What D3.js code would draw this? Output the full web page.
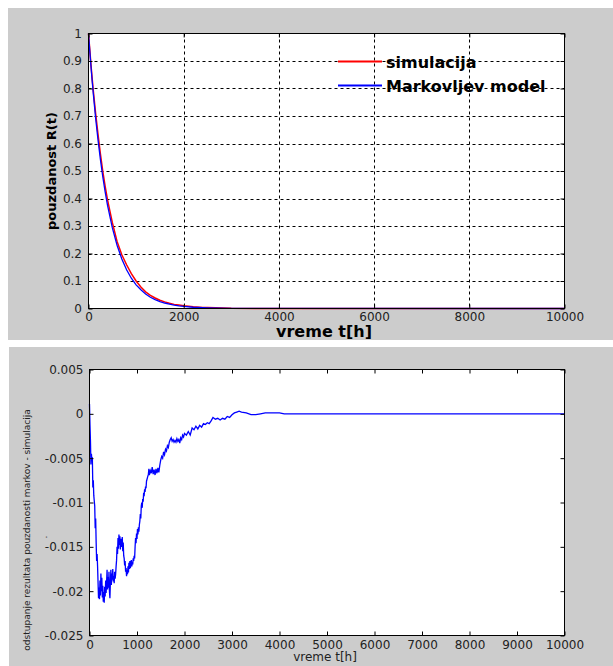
<!DOCTYPE html>
<html>
<head>
<meta charset="utf-8">
<script src="https://cdn.jsdelivr.net/npm/d3@7"></script>
<style>
  html, body { margin: 0; padding: 0; background: #ffffff; }
  svg { display: block; }
  text { font-family: "DejaVu Sans", sans-serif; }
</style>
</head>
<body>
<svg id="chart" width="613" height="666"></svg>
<script>
// ---------------- DATA ----------------
// Top chart: reliability R(t)
const relTime   = [0, 25, 50, 75, 100, 150, 200, 250, 300, 350, 400, 500, 600, 700, 800, 900, 1000, 1100, 1200, 1300, 1400, 1500, 1600, 1700, 1800, 1900, 2000, 2200, 2400, 2500, 3000, 4000, 10000];
const markovR   = [1.000, 0.941, 0.885, 0.832, 0.783, 0.692, 0.613, 0.542, 0.479, 0.424, 0.375, 0.294, 0.230, 0.180, 0.141, 0.110, 0.086, 0.068, 0.053, 0.041, 0.032, 0.025, 0.020, 0.016, 0.012, 0.0095, 0.0075, 0.0045, 0.0028, 0.0022, 0.0006, 0.0001, 0.0];
const simR      = [1.000, 0.945, 0.890, 0.840, 0.793, 0.709, 0.633, 0.562, 0.499, 0.444, 0.395, 0.313, 0.244, 0.1955, 0.159, 0.1267, 0.100, 0.078, 0.0606, 0.0477, 0.0382, 0.0302, 0.024, 0.019, 0.015, 0.0128, 0.0097, 0.0063, 0.0039, 0.0032, 0.0007, 0.0001, 0.0];
const seriesNames = ["simulacija", "Markovljev model"];
const seriesColors = ["#ff0000", "#0000ff"];

// Bottom chart: deviation Markov - simulation
const devTime = [0,10,20,30,40,50,60,70,80,90,100,110,120,130,140,150,160,170,180,190,200,210,220,230,240,250,260,270,280,290,300,310,320,330,340,350,360,370,380,390,400,410,420,430,440,450,460,470,480,490,500,510,520,530,540,550,560,570,580,590,600,610,620,630,640,650,660,670,680,690,700,710,720,730,740,750,760,770,780,790,800,810,820,830,840,850,860,870,880,890,900,910,920,930,940,950,960,970,980,990,1000,1010,1020,1030,1040,1050,1060,1070,1080,1090,1100,1110,1120,1130,1140,1150,1160,1170,1180,1190,1200,1220,1240,1250,1260,1280,1300,1320,1340,1360,1380,1400,1420,1440,1460,1480,1500,1520,1540,1560,1580,1600,1620,1640,1660,1680,1700,1720,1740,1760,1780,1800,1820,1840,1860,1880,1900,1920,1940,1960,1980,2000,2040,2080,2120,2160,2200,2240,2280,2320,2360,2400,2440,2480,2520,2560,2600,2650,2700,2750,2800,2850,2900,2950,3000,3050,3100,3150,3200,3300,3400,3500,3600,3700,3800,3900,4000,4100,10000];
const devValue = [0.0011,-0.0012,-0.0030,-0.0057,-0.0045,-0.0052,-0.0049,-0.0083,-0.0075,-0.0092,-0.0098,-0.0104,-0.0129,-0.0118,-0.0145,-0.0166,-0.0158,-0.0172,-0.0190,-0.0208,-0.0196,-0.0209,-0.0188,-0.0205,-0.0180,-0.0200,-0.0185,-0.0207,-0.0194,-0.0212,-0.0201,-0.0213,-0.0195,-0.0206,-0.0188,-0.0202,-0.0190,-0.0176,-0.0198,-0.0184,-0.0196,-0.0178,-0.0200,-0.0208,-0.0190,-0.0176,-0.0193,-0.0180,-0.0187,-0.0175,-0.0189,-0.0183,-0.0191,-0.0178,-0.0186,-0.0181,-0.0172,-0.0165,-0.0150,-0.0158,-0.0140,-0.0152,-0.0136,-0.0148,-0.0138,-0.0153,-0.0141,-0.0150,-0.0147,-0.0139,-0.0155,-0.0145,-0.0160,-0.0163,-0.0171,-0.0166,-0.0178,-0.0174,-0.0183,-0.0176,-0.0181,-0.0172,-0.0179,-0.0168,-0.0175,-0.0166,-0.0174,-0.0170,-0.0165,-0.0172,-0.0167,-0.0170,-0.0163,-0.0166,-0.0160,-0.0163,-0.0150,-0.0140,-0.0146,-0.0135,-0.0141,-0.0130,-0.0136,-0.0128,-0.0133,-0.0125,-0.0121,-0.0113,-0.0118,-0.0104,-0.0100,-0.0106,-0.0096,-0.0099,-0.0089,-0.0093,-0.0085,-0.0088,-0.0082,-0.0084,-0.0076,-0.0072,-0.0068,-0.0062,-0.0069,-0.0064,-0.0067,-0.0060,-0.0068,-0.0063,-0.0069,-0.0062,-0.0067,-0.0061,-0.0066,-0.0058,-0.0052,-0.0048,-0.0050,-0.0043,-0.0046,-0.0040,-0.0042,-0.0036,-0.0038,-0.0032,-0.0029,-0.0027,-0.0031,-0.0029,-0.0032,-0.0030,-0.0032,-0.0028,-0.0031,-0.0029,-0.0033,-0.0027,-0.0029,-0.0024,-0.0026,-0.0022,-0.0024,-0.0020,-0.0024,-0.0016,-0.0018,-0.0014,-0.0017,-0.0013,-0.0015,-0.0011,-0.0012,-0.0010,-0.0011,-0.0008,-0.0004,-0.0006,-0.0005,-0.0007,-0.0005,-0.0006,-0.0003,-0.0004,-0.0001,0.0001,0.0002,0.0003,0.0002,0.0001,-0.0001,-0.0001,0.0000,0.0001,0.0001,0.0001,0.0001,0.0000,0.0000];

// Ticks and labels
const topXTicks = [0, 2000, 4000, 6000, 8000, 10000];
const topXTickLabels = ["0", "2000", "4000", "6000", "8000", "10000"];
const topYTicks = [0, 0.1, 0.2, 0.3, 0.4, 0.5, 0.6, 0.7, 0.8, 0.9, 1];
const topYTickLabels = ["0", "0.1", "0.2", "0.3", "0.4", "0.5", "0.6", "0.7", "0.8", "0.9", "1"];
const botXTicks = [0, 1000, 2000, 3000, 4000, 5000, 6000, 7000, 8000, 9000, 10000];
const botXTickLabels = ["0", "1000", "2000", "3000", "4000", "5000", "6000", "7000", "8000", "9000", "10000"];
const botYTicks = [0.005, 0, -0.005, -0.01, -0.015, -0.02, -0.025];
const botYTickLabels = ["0.005", "0", "-0.005", "-0.01", "-0.015", "-0.02", "-0.025"];

const topXLabel = "vreme t[h]";
const topYLabel = "pouzdanost R(t)";
const botXLabel = "vreme t[h]";
const botYLabel = "odstupanje rezultata pouzdanosti markov - simulacija";

// ---------------- DRAW ----------------
const svg = d3.select("#chart");
const bg = "#cccccc";

svg.append("rect").attr("x", 8).attr("y", 8).attr("width", 605).attr("height", 332).attr("fill", bg);
svg.append("rect").attr("x", 9).attr("y", 347).attr("width", 604).attr("height", 319).attr("fill", bg);

function labelFmt(ticks, labels) {
  return d => { const i = ticks.findIndex(t => Math.abs(t - d) < 1e-9); return i >= 0 ? labels[i] : ""; };
}

// ===== TOP CHART =====
const tx = d3.scaleLinear().domain([0, 10000]).range([88.5, 564.5]);
const ty = d3.scaleLinear().domain([0, 1]).range([308.5, 33.5]);
const gTop = svg.append("g");
gTop.append("rect").attr("x", tx(0)).attr("y", ty(1)).attr("width", tx(10000) - tx(0)).attr("height", ty(0) - ty(1)).attr("fill", "#ffffff");

gTop.append("g").selectAll("line").data(topXTicks.slice(1, -1)).join("line")
  .attr("x1", d => Math.round(tx(d)) + 0.5).attr("x2", d => Math.round(tx(d)) + 0.5)
  .attr("y1", ty(1)).attr("y2", ty(0))
  .attr("stroke", "#000").attr("stroke-width", 1).attr("stroke-dasharray", "3,3");
gTop.append("g").selectAll("line").data(topYTicks.slice(1, -1)).join("line")
  .attr("y1", d => Math.round(ty(d)) + 0.5).attr("y2", d => Math.round(ty(d)) + 0.5)
  .attr("x1", tx(0)).attr("x2", tx(10000))
  .attr("stroke", "#000").attr("stroke-width", 1).attr("stroke-dasharray", "3,3");

const topLine = (vals) => d3.line().x((d, i) => tx(relTime[i])).y(d => ty(d))(vals);
gTop.append("path").attr("d", topLine(simR)).attr("fill", "none").attr("stroke", seriesColors[0]).attr("stroke-width", 1.5);
gTop.append("path").attr("d", topLine(markovR)).attr("fill", "none").attr("stroke", seriesColors[1]).attr("stroke-width", 1.3);

const topXAxis = gTop.append("g").attr("transform", `translate(0,${ty(0)})`)
  .call(d3.axisBottom(tx).tickValues(topXTicks).tickFormat(labelFmt(topXTicks, topXTickLabels)).tickSizeInner(-4).tickSizeOuter(0).tickPadding(4));
const topYAxis = gTop.append("g").attr("transform", `translate(${tx(0)},0)`)
  .call(d3.axisLeft(ty).tickValues(topYTicks).tickFormat(labelFmt(topYTicks, topYTickLabels)).tickSizeInner(-4).tickSizeOuter(0).tickPadding(6.5));
gTop.append("g").attr("transform", `translate(0,${ty(1)})`)
  .call(d3.axisTop(tx).tickValues(topXTicks).tickFormat("").tickSizeInner(-4).tickSizeOuter(0));
gTop.append("g").attr("transform", `translate(${tx(10000)},0)`)
  .call(d3.axisRight(ty).tickValues(topYTicks).tickFormat("").tickSizeInner(-4).tickSizeOuter(0));
[topXAxis, topYAxis].forEach(a => a.selectAll("text").attr("font-family", "DejaVu Sans").attr("font-size", 12).attr("fill", "#222"));
gTop.selectAll(".domain").remove();
gTop.selectAll(".tick line").attr("stroke", "#000");
gTop.append("rect").attr("x", tx(0)).attr("y", ty(1)).attr("width", tx(10000) - tx(0)).attr("height", ty(0) - ty(1))
  .attr("fill", "none").attr("stroke", "#000").attr("stroke-width", 1);

gTop.append("text").attr("x", 324).attr("y", 337).attr("text-anchor", "middle")
  .attr("font-size", 16).attr("font-weight", "bold").attr("fill", "#000").text(topXLabel);
gTop.append("text").attr("transform", `translate(56,${(ty(0) + ty(1)) / 2}) rotate(-90)`).attr("text-anchor", "middle")
  .attr("font-size", 13).attr("font-weight", "bold").attr("fill", "#000").text(topYLabel);

const legendY = [61, 85];
seriesNames.forEach((name, i) => {
  gTop.append("line").attr("x1", 338).attr("x2", 382).attr("y1", legendY[i] + 0.5).attr("y2", legendY[i] + 0.5)
    .attr("stroke", seriesColors[i]).attr("stroke-width", 2);
  gTop.append("text").attr("x", 386).attr("y", legendY[i] + 6.5).attr("font-size", 16).attr("font-weight", "bold")
    .attr("fill", "#000").text(name);
});

// ===== BOTTOM CHART =====
const bx = d3.scaleLinear().domain([0, 10000]).range([89.5, 564.5]);
const by = d3.scaleLinear().domain([-0.025, 0.005]).range([635.5, 369.5]);
const gBot = svg.append("g");
gBot.append("rect").attr("x", bx(0)).attr("y", by(0.005)).attr("width", bx(10000) - bx(0)).attr("height", by(-0.025) - by(0.005)).attr("fill", "#ffffff");

const devLine = d3.line().x((d, i) => bx(devTime[i])).y(d => by(d));
gBot.append("path").attr("d", devLine(devValue)).attr("fill", "none").attr("stroke", "#0000ff").attr("stroke-width", 1.3);

const botXAxis = gBot.append("g").attr("transform", `translate(0,${by(-0.025)})`)
  .call(d3.axisBottom(bx).tickValues(botXTicks).tickFormat(labelFmt(botXTicks, botXTickLabels)).tickSizeInner(-4).tickSizeOuter(0).tickPadding(4.5));
const botYAxis = gBot.append("g").attr("transform", `translate(${bx(0)},0)`)
  .call(d3.axisLeft(by).tickValues(botYTicks).tickFormat(labelFmt(botYTicks, botYTickLabels)).tickSizeInner(-4).tickSizeOuter(0).tickPadding(6));
gBot.append("g").attr("transform", `translate(0,${by(0.005)})`)
  .call(d3.axisTop(bx).tickValues(botXTicks).tickFormat("").tickSizeInner(-4).tickSizeOuter(0));
gBot.append("g").attr("transform", `translate(${bx(10000)},0)`)
  .call(d3.axisRight(by).tickValues(botYTicks).tickFormat("").tickSizeInner(-4).tickSizeOuter(0));
[botXAxis, botYAxis].forEach(a => a.selectAll("text").attr("font-family", "DejaVu Sans").attr("font-size", 12).attr("fill", "#222"));
gBot.selectAll(".domain").remove();
gBot.selectAll(".tick line").attr("stroke", "#000");
gBot.append("rect").attr("x", bx(0)).attr("y", by(0.005)).attr("width", bx(10000) - bx(0)).attr("height", by(-0.025) - by(0.005))
  .attr("fill", "none").attr("stroke", "#000").attr("stroke-width", 1);

gBot.append("text").attr("x", 325).attr("y", 661).attr("text-anchor", "middle")
  .attr("font-size", 12).attr("fill", "#222").text(botXLabel);
gBot.append("text").attr("transform", `translate(29.5,530) rotate(-90)`).attr("text-anchor", "middle")
  .attr("font-size", 9).attr("fill", "#222").text(botYLabel);
gBot.append("text").attr("transform", `translate(47,537) rotate(-90)`).attr("text-anchor", "middle")
  .attr("font-size", 9).attr("fill", "#222").text(".");
</script>
</body>
</html>
